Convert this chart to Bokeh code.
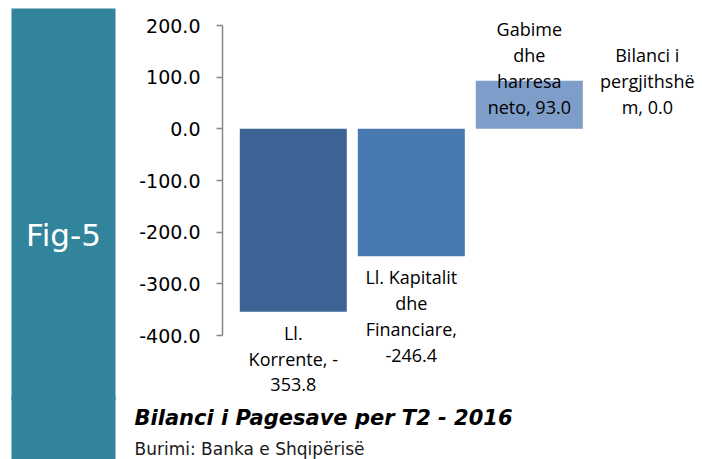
from bokeh.plotting import figure
from bokeh.layouts import row, column
from bokeh.models import (ColumnDataSource, Range1d, FixedTicker, NumeralTickFormatter,
                          LabelSet, Label, BoxAnnotation)
from bokeh.core.properties import value
from bokeh.embed import file_html
from bokeh.resources import INLINE

# ---- data ----
categories = ["Ll. Korrente", "Ll. Kapitalit dhe Financiare", "Gabime dhe harresa neto", "Bilanci i pergjithshëm"]
values = [-353.8, -246.4, 93.0, 0.0]
label_lines = [["Ll.", "Korrente, -", "353.8"],
               ["Ll. Kapitalit", "dhe", "Financiare,", "-246.4"],
               ["Gabime", "dhe", "harresa", "neto, 93.0"],
               ["Bilanci i", "pergjithshë", "m, 0.0"]]
bar_colors = ["#3D6495", "#4778B0", "#7E9DC8", "#7E9DC8"]
y_ticks = [200, 100, 0, -100, -200, -300, -400]
title_text = "Bilanci i Pagesave per T2 - 2016"
source_text = "Burimi: Banka e Shqipërisë"
fig_text = "Fig-5"

TOTAL_W, TOTAL_H = 702, 459
SIDE_W = 117
CHART_W = TOTAL_W - SIDE_W
CHART_H = 400
OVERLAP = 4
CAP_TOP = CHART_H - OVERLAP
CAP_H = TOTAL_H - CAP_TOP
TEAL = "#31849B"


def bare(fig, transparent=False):
    fig.outline_line_color = None
    fig.xgrid.visible = False
    fig.ygrid.visible = False
    fig.xaxis.visible = False
    fig.yaxis.visible = False
    fig.background_fill_color = "white"
    fig.border_fill_color = "white"
    if transparent:
        fig.background_fill_alpha = 0
        fig.border_fill_alpha = 0


def plain_fig(w, h, transparent=False):
    f = figure(width=w, height=h, output_backend="svg", toolbar_location=None,
               x_range=Range1d(0, 1), y_range=Range1d(0, 1),
               min_border_left=0, min_border_right=0, min_border_top=0, min_border_bottom=0)
    bare(f, transparent)
    return f


def teal_box(f, top, bottom):
    f.add_layout(BoxAnnotation(left=11, right=115, top=top, bottom=bottom,
                               left_units="canvas", right_units="canvas",
                               top_units="canvas", bottom_units="canvas",
                               fill_color=TEAL, fill_alpha=1.0, line_color=None))


# ---- side bar (upper part) ----
side = plain_fig(SIDE_W, CHART_H)
teal_box(side, 8, CHART_H + 4)
side.add_layout(Label(x=63, y=234, x_units="canvas", y_units="canvas", text=fig_text,
                      text_align="center", text_baseline="middle", text_font="DejaVu Sans",
                      text_font_size="31px", text_color="white"))

# ---- chart ----
ML = 222 - SIDE_W
AX_TOP, AX_BOT = 25, 335          # pixel rows of 200 and -400
uy = 600 / (AX_BOT - AX_TOP)      # data per px
YE = 200 + AX_TOP * uy
YS = -400 - (CHART_H - AX_BOT) * uy
PXU = 118                          # px per category
XS = -0.6
XE = XS + (CHART_W - ML) / PXU

p = figure(width=CHART_W, height=CHART_H, output_backend="svg", toolbar_location=None,
           x_range=Range1d(XS, XE), y_range=Range1d(YS, YE),
           min_border_left=ML, min_border_right=0, min_border_top=0, min_border_bottom=0)
p.outline_line_color = None
p.xgrid.visible = False
p.ygrid.visible = False
p.xaxis.visible = False
p.background_fill_color = "white"

xs = list(range(len(values)))
src = ColumnDataSource(dict(x=xs, top=values, color=bar_colors, cat=categories))
p.vbar(x="x", top="top", bottom=0, width=0.907, fill_color="color", line_color=None, source=src)

ax = p.yaxis[0]
ax.ticker = FixedTicker(ticks=y_ticks)
ax.bounds = (-400, 200)
ax.formatter = NumeralTickFormatter(format="0.0")
ax.minor_tick_line_color = None
ax.major_tick_in = 0
ax.major_tick_out = 6
ax.axis_line_color = "#868686"
ax.major_tick_line_color = "#868686"
ax.axis_line_width = 1.5
ax.major_tick_line_width = 1.5
ax.major_label_text_font = "DejaVu Sans"
ax.major_label_text_font_size = "19px"
ax.major_label_text_color = "black"
ax.major_label_standoff = 16

# data labels, one row per text line
GAP, STEP = 21, 26
lx, ly, lt = [], [], []
for i, (v, lines) in enumerate(zip(values, label_lines)):
    n = len(lines)
    for k, t in enumerate(lines):
        if v < 0:
            y = v - (GAP + k * STEP) * uy
        else:
            y = (GAP + 1 + (n - 1 - k) * STEP) * uy
        lx.append(xs[i]); ly.append(y); lt.append(t)
p.add_layout(LabelSet(x="x", y="y", text="text", source=ColumnDataSource(dict(x=lx, y=ly, text=lt)),
                      text_align="center", text_baseline="middle",
                      text_font=value("Open Sans"), text_font_size=value("18px"),
                      text_color="black"))

# ---- captions (full width strip, transparent, overlapping the seam) ----
cap = plain_fig(TOTAL_W, CAP_H, transparent=True)
cap.margin = (-OVERLAP, 0, 0, 0)
teal_box(cap, -4, CAP_H + 4)
cap.add_layout(Label(x=134, y=417 - CAP_TOP, x_units="canvas", y_units="canvas",
                     text=title_text, text_align="left", text_baseline="middle",
                     text_font="DejaVu Sans", text_font_size="21px",
                     text_font_style="bold italic", text_color="black"))
cap.add_layout(Label(x=134, y=448 - CAP_TOP, x_units="canvas", y_units="canvas",
                     text=source_text, text_align="left", text_baseline="middle",
                     text_font="DejaVu Sans", text_font_size="17px", text_color="#1a1a1a"))

layout = column(row(side, p, spacing=0), cap, spacing=0)
open("out.html", "w").write(file_html(layout, INLINE))
